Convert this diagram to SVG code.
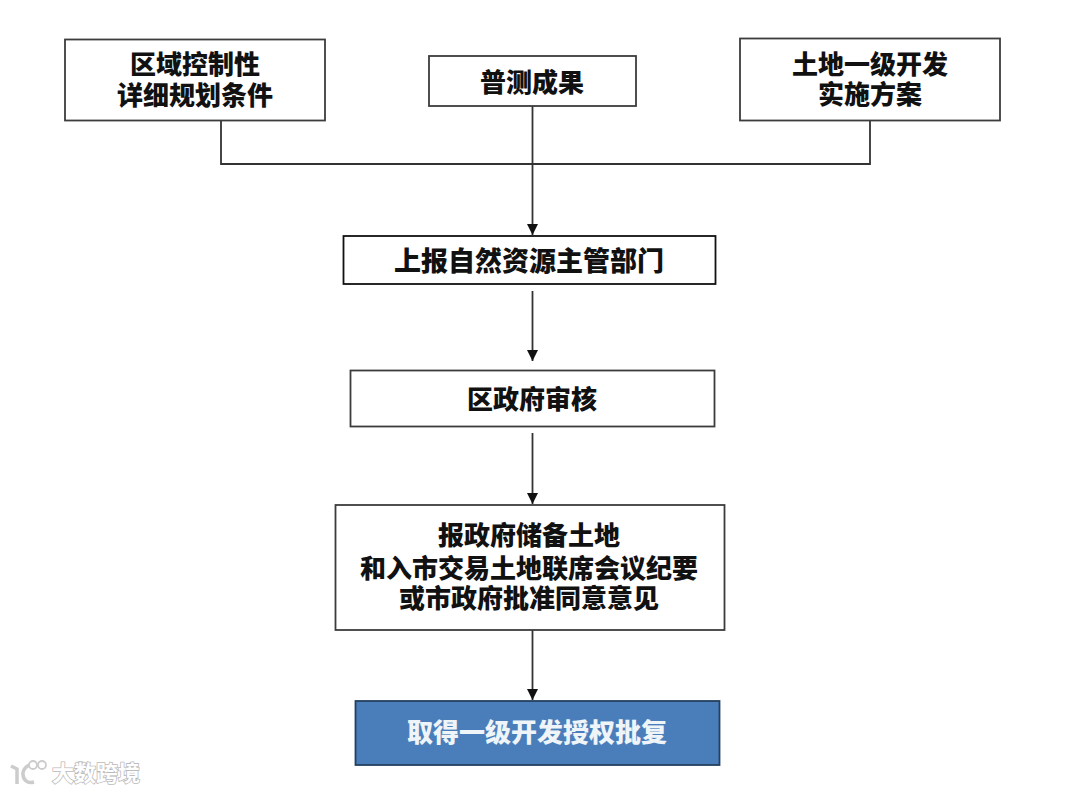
<svg xmlns="http://www.w3.org/2000/svg" width="1080" height="793" viewBox="0 0 1080 793">
<style>
.box{fill:#fff;stroke:#3c3c3c;stroke-width:1.8}
.blk{stroke:#111}
.t{font-family:"Noto Sans CJK SC","Liberation Sans",sans-serif;font-weight:900;fill:#111;text-anchor:middle;font-size:26px}
.c{fill:none;stroke:#333;stroke-width:1.8}
</style>
<defs><marker id="a" markerUnits="userSpaceOnUse" markerWidth="12" markerHeight="12" refX="11" refY="5.500" orient="auto"><path d="M0 0L11 5.500L0 11Z" fill="#111"/></marker></defs>
<rect width="1080" height="793" fill="#fff"/>
<g id="connectors">
<path class="c" d="M221 121V164H870V121"/>
<path class="c" d="M532.500 106V235" marker-end="url(#a)"/>
<path class="c" d="M532.500 291V361" marker-end="url(#a)"/>
<path class="c" d="M532.500 433V504" marker-end="url(#a)"/>
<path class="c" d="M532.500 630V700" marker-end="url(#a)"/>
</g>
<g id="n1"><rect class="box" x="65" y="39.500" width="260" height="81"/><text class="t"><tspan x="195" y="74">区域控制性</tspan><tspan x="195" y="105">详细规划条件</tspan></text></g>
<g id="n2"><rect class="box" x="429" y="56" width="207" height="50"/><text class="t" x="532" y="92">普测成果</text></g>
<g id="n3"><rect class="box" x="740" y="38.500" width="260" height="82"/><text class="t"><tspan x="870" y="74">土地一级开发</tspan><tspan x="870" y="104">实施方案</tspan></text></g>
<g id="n4"><rect class="box blk" x="343.500" y="236" width="372" height="48"/><text class="t" style="font-size:27px" x="529" y="271">上报自然资源主管部门</text></g>
<g id="n5"><rect class="box" x="350.500" y="370.500" width="364" height="56"/><text class="t" x="532" y="409">区政府审核</text></g>
<g id="n6"><rect class="box" x="335.500" y="505" width="389" height="125"/><text class="t"><tspan x="529" y="545">报政府储备土地</tspan><tspan x="529" y="578">和入市交易土地联席会议纪要</tspan><tspan x="529" y="608">或市政府批准同意意见</tspan></text></g>
<g id="n7"><rect x="355.500" y="701" width="364" height="64" fill="#4a7ebb" stroke="#24405f" stroke-width="1.800"/><text class="t" x="537" y="742" style="fill:#eef4f8">取得一级开发授权批复</text></g>
<g id="watermark"><text x="96" y="781" font-family="Noto Sans CJK SC,sans-serif" font-size="22" font-weight="700" text-anchor="middle" fill="#fff" stroke="#bbb" stroke-width="1.600" paint-order="stroke">大数跨境</text>
<path d="M11 766L17 769V784M33 765C19 764 20 786 34 782" fill="none" stroke="#ccc" stroke-width="3.500"/><circle cx="33" cy="765" r="4" fill="#fff" stroke="#ccc" stroke-width="1.800"/><circle cx="42" cy="765" r="4" fill="#fff" stroke="#ccc" stroke-width="1.800"/></g>
</svg>
